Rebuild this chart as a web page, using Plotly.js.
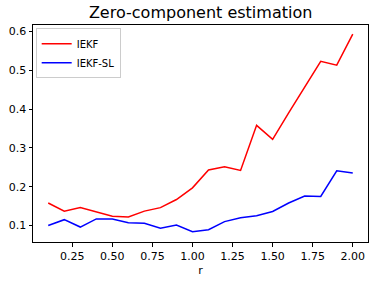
<!DOCTYPE html>
<html><head><meta charset="utf-8">
<script src="https://cdn.plot.ly/plotly-3.0.1.min.js"></script>
<style>html,body{margin:0;padding:0;background:#fff}#chart{width:375px;height:283px}</style>
</head><body><div id="chart"></div>
<script>
const r = [0.1,0.2,0.3,0.4,0.5,0.6,0.7,0.8,0.9,1.0,1.1,1.2,1.3,1.4,1.5,1.6,1.7,1.8,1.9,2.0];
const iekf = [0.158,0.137,0.146,0.134,0.124,0.122,0.137,0.146,0.167,0.197,0.243,0.251,0.242,0.358,0.322,0.390,0.455,0.523,0.513,0.593];
const iekfSL = [0.100,0.115,0.096,0.117,0.117,0.107,0.106,0.093,0.101,0.084,0.089,0.110,0.120,0.125,0.136,0.158,0.176,0.175,0.241,0.235];
const xTicks = [0.25,0.5,0.75,1.0,1.25,1.5,1.75,2.0];
const xTickText = ['0.25','0.50','0.75','1.00','1.25','1.50','1.75','2.00'];
const yTicks = [0.1,0.2,0.3,0.4,0.5,0.6];
const yTickText = ['0.1','0.2','0.3','0.4','0.5','0.6'];

const font = {family:'DejaVu Sans', size:11, color:'#000'};
const traces = [
  {x:r, y:iekf, mode:'lines', name:'IEKF', line:{color:'red', width:1.5}},
  {x:r, y:iekfSL, mode:'lines', name:'IEKF-SL', line:{color:'blue', width:1.5}}
];
const axisCommon = {showgrid:false, zeroline:false, showline:true, mirror:true, linecolor:'#000', linewidth:1,
  ticks:'outside', ticklen:3.5, tickwidth:1, tickcolor:'#000', tickfont:font};
const layout = {
  width:375, height:283,
  margin:{l:33, r:7, t:25, b:41},
  paper_bgcolor:'#fff', plot_bgcolor:'#fff',
  font:font,
  title:{text:'Zero-component estimation', font:{family:'DejaVu Sans', size:16, color:'#000'}, x:0.535, xanchor:'center', y:0.955, yanchor:'middle'},
  xaxis:Object.assign({}, axisCommon, {range:[0.005,2.095], tickvals:xTicks, ticktext:xTickText,
    title:{text:'r', font:font, standoff:4}}),
  yaxis:Object.assign({}, axisCommon, {range:[0.0575,0.6165], tickvals:yTicks, ticktext:yTickText}),
  showlegend:true,
  legend:{x:0.008, y:0.985, xanchor:'left', yanchor:'top', bgcolor:'rgba(255,255,255,0.8)', bordercolor:'#ccc', borderwidth:1,
    font:{family:'DejaVu Sans', size:10, color:'#000'}, tracegroupgap:0, itemwidth:30}
};
Plotly.newPlot('chart', traces, layout, {staticPlot:true, displayModeBar:false});
</script></body></html>
